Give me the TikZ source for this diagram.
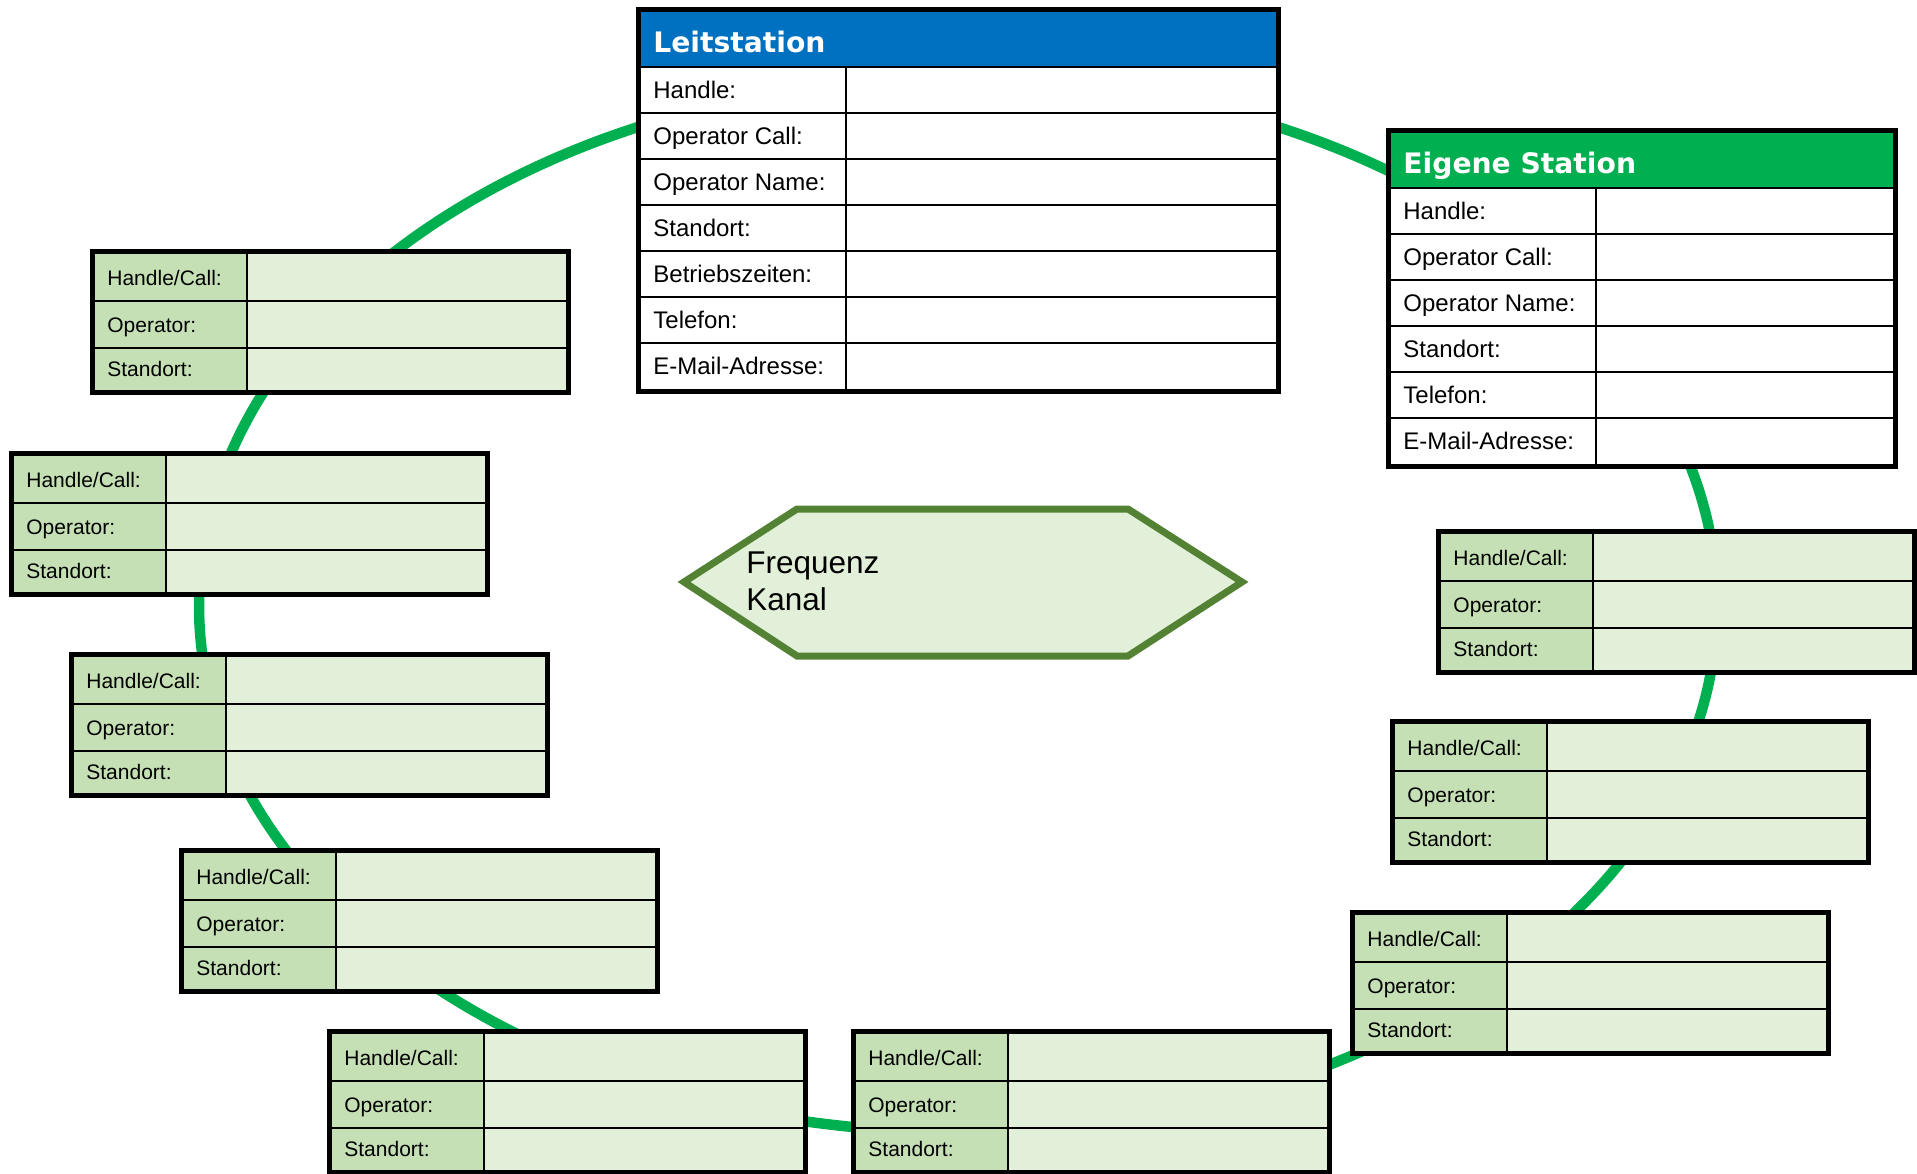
\documentclass[tikz,border=0pt]{standalone}
\usepackage{fontspec}
\setmainfont{Liberation Sans}
\newfontfamily\headfont{DejaVu Sans}
\definecolor{leitblue}{HTML}{0070C0}
\definecolor{owngreen}{HTML}{00B050}
\definecolor{labelgreen}{HTML}{C5E0B4}
\definecolor{valuegreen}{HTML}{E2F0D9}
\definecolor{hexline}{HTML}{548235}
\tikzset{
  frame/.style      = {draw=black, line width=2.5pt},
  cell line/.style  = {draw=black, line width=0.85pt},
  thin line/.style  = {draw=black, line width=0.55pt},
  ring/.style       = {draw=owngreen, line width=5.25pt},
  title text/.style = {font=\headfont\bfseries\fontsize{14.1pt}{16pt}\selectfont,
                       text=white, anchor=base west, inner sep=0pt},
  field text/.style = {font=\fontsize{12pt}{14pt}\selectfont, anchor=base west, inner sep=0pt},
  call text/.style  = {font=\fontsize{10.5pt}{12pt}\selectfont, anchor=base west, inner sep=0pt},
  hex text/.style   = {font=\fontsize{15.75pt}{18pt}\selectfont, anchor=base west, inner sep=0pt}
}
% name, x, y, width, height, colour, title, fields
\newcommand{\stationbox}[8]{%
  \begin{scope}[shift={(#2,#3)}]
    \fill[white] (0,60) rectangle (#4,#5);
    \fill[#6] (0,0) rectangle (#4,60);
    \node[title text] (#1-title) at (17,45) {#7};
    \foreach \lab [count=\i] in {#8} {
      \draw[thin line] (0,{60+46*(\i-1)}) -- (#4,{60+46*(\i-1)});
      \node[field text] (#1-\i) at (17,{60+46*(\i-1)+31.5}) {\lab};
    }
    \draw[thin line] (210,60) -- (210,#5);
    \draw[frame] (2.5,2.5) rectangle ({#4-2.5},{#5-2.5});
  \end{scope}}
% name, x, y
\newcommand{\callbox}[3]{%
  \begin{scope}[shift={(#2,#3)}]
    \fill[labelgreen] (0,0) rectangle (157,146);
    \fill[valuegreen] (157,0) rectangle (481,146);
    \draw[cell line] (0,52) -- (481,52) (0,99) -- (481,99) (157,0) -- (157,146);
    \draw[frame] (2.5,2.5) rectangle (478.5,143.5);
    \node[call text] (#1-handle) at (17,36) {Handle/Call:};
    \node[call text] (#1-operator) at (17,83) {Operator:};
    \node[call text] (#1-standort) at (17,127.5) {Standort:};
  \end{scope}}

\begin{document}
\begin{tikzpicture}[x=0.5pt,y=-0.5pt]
  \useasboundingbox (0,0) rectangle (1917,1173);
  % ring
  \draw[ring] (958,605) ellipse [x radius=379.5pt, y radius=263.5pt];
  % channel
  \draw[draw=hexline, fill=valuegreen, line width=3.5pt, line join=miter]
    (684,582) -- (797,509) -- (1128,509) -- (1242,582) -- (1128,656) -- (797,656) -- cycle;
  \node[hex text] (freq) at (746,573) {Frequenz};
  \node[hex text] (kanal) at (746,610) {Kanal};
  % stations
  \stationbox{leit}{636}{7}{645}{387}{leitblue}{Leitstation}
    {Handle:,Operator Call:,Operator Name:,Standort:,Betriebszeiten:,Telefon:,E-Mail-Adresse:}
  \stationbox{own}{1386}{128}{512}{341}{owngreen}{Eigene Station}
    {Handle:,Operator Call:,Operator Name:,Standort:,Telefon:,E-Mail-Adresse:}
  % participants
  \callbox{a}{90}{249}
  \callbox{b}{9}{451}
  \callbox{c}{69}{652}
  \callbox{d}{179}{848}
  \callbox{e}{327}{1029}
  \callbox{f}{851}{1029}
  \callbox{g}{1350}{910}
  \callbox{h}{1390}{719}
  \callbox{i}{1436}{529}
\end{tikzpicture}
\end{document}
